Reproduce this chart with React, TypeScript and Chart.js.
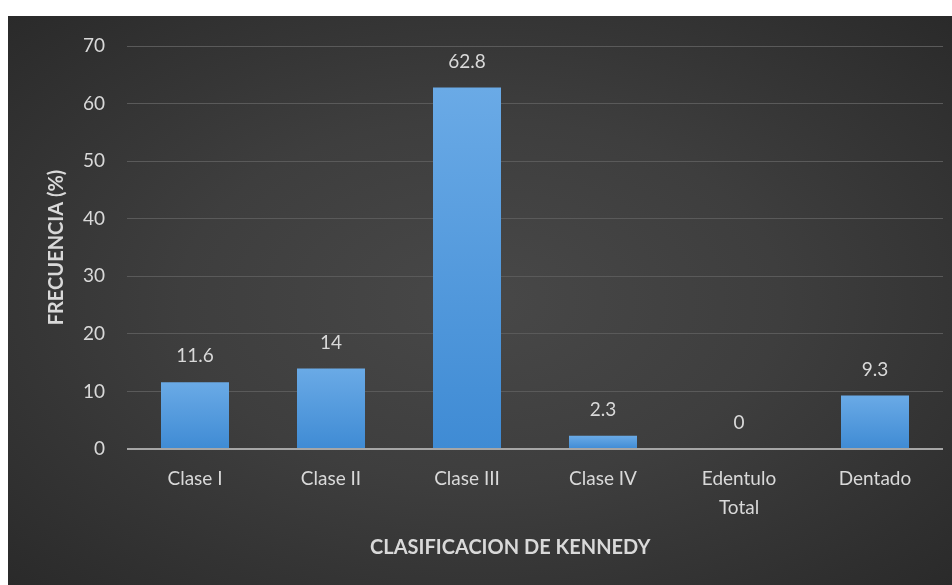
import React, { useEffect, useRef } from "react";
import { Chart, registerables } from "chart.js";

Chart.register(...registerables);

const categories: (string | string[])[] = ["Clase I", "Clase II", "Clase III", "Clase IV", ["Edentulo", "Total"], "Dentado"];
const frequencies: number[] = [11.6, 14, 62.8, 2.3, 0, 9.3];
const valueLabels: string[] = ["11.6", "14", "62.8", "2.3", "0", "9.3"];
const yTitle = "FRECUENCIA (%)";
const xTitle = "CLASIFICACION DE KENNEDY";

const FONT = "Lato, 'Open Sans', sans-serif";
const TEXT = "#d9d9d9";

const valueLabelPlugin = {
  id: "valueLabels",
  afterDatasetsDraw(chart: any) {
    const ctx = chart.ctx;
    const meta = chart.getDatasetMeta(0);
    ctx.save();
    ctx.font = `19px ${FONT}`;
    ctx.fillStyle = TEXT;
    ctx.textAlign = "center";
    ctx.textBaseline = "middle";
    meta.data.forEach((bar: any, i: number) => {
      ctx.fillText(valueLabels[i], bar.x, bar.y - 26);
    });
    ctx.restore();
  },
};

// x-axis title, centred on the whole chart box as in the reference
const xTitlePlugin = {
  id: "xTitle",
  afterDraw(chart: any) {
    const ctx = chart.ctx;
    ctx.save();
    ctx.font = `bold 20px ${FONT}`;
    ctx.fillStyle = TEXT;
    ctx.textAlign = "center";
    ctx.textBaseline = "middle";
    ctx.fillText(xTitle, chart.width * 0.532, chart.height - 37);
    ctx.restore();
  },
};

export default function App() {
  const ref = useRef<HTMLCanvasElement | null>(null);
  useEffect(() => {
    if (!ref.current) return;
    const chart = new Chart(ref.current, {
      type: "bar",
      data: {
        labels: categories,
        datasets: [
          {
            data: frequencies,
            backgroundColor: (c: any) => {
              const ch = c.chart;
              const ys = ch.scales?.y;
              if (!ys || c.type !== "data" || !ch.chartArea) return "#5b9bd5";
              const top = ys.getPixelForValue(c.parsed.y);
              const base = ys.getPixelForValue(0);
              if (!isFinite(top) || !isFinite(base) || base - top < 1) return "#5b9bd5";
              const g = ch.ctx.createLinearGradient(0, top, 0, base);
              g.addColorStop(0, "#6aaae6");
              g.addColorStop(1, "#3f8bd4");
              return g;
            },
            borderWidth: 0,
            barPercentage: 0.5,
            categoryPercentage: 1,
          },
        ],
      },
      options: {
        animation: false,
        responsive: true,
        maintainAspectRatio: false,
        layout: { padding: { top: 30, right: 9, bottom: 0, left: 0 } },
        plugins: { legend: { display: false }, tooltip: { enabled: false } },
        scales: {
          x: {
            grid: { display: false },
            border: { display: false },
            ticks: { color: TEXT, font: { family: FONT, size: 19, lineHeight: 1.5 }, padding: 8, maxRotation: 0 },
            afterFit: (s: any) => {
              s.height = 136;
              s.paddingTop = 0;
              s.paddingBottom = 0;
            },
          },
          y: {
            min: 0,
            max: 70,
            ticks: { stepSize: 10, color: TEXT, font: { family: FONT, size: 19 }, padding: 22 },
            grid: {
              drawTicks: false,
              color: (c: any) => (c.tick && c.tick.value === 0 ? "#a6a6a6" : "#5a5a5a"),
              lineWidth: (c: any) => (c.tick && c.tick.value === 0 ? 2 : 1),
            },
            border: { display: false },
            title: {
              display: true,
              text: yTitle,
              color: TEXT,
              font: { family: FONT, size: 20, weight: "bold" },
              padding: { top: 37, bottom: 0 },
            },
            afterFit: (s: any) => {
              s.width = 119;
              s.paddingTop = 0;
              s.paddingBottom = 0;
            },
          },
        },
      },
      plugins: [valueLabelPlugin, xTitlePlugin],
    });
    return () => chart.destroy();
  }, []);

  return (
    <div
      style={{
        position: "fixed",
        left: 8,
        top: 16,
        width: 944,
        height: 569,
        background: "radial-gradient(ellipse at 50% 50%, #484848 0%, #3e3e3e 45%, #2a2a2a 100%)",
      }}
    >
      <canvas ref={ref} />
    </div>
  );
}
